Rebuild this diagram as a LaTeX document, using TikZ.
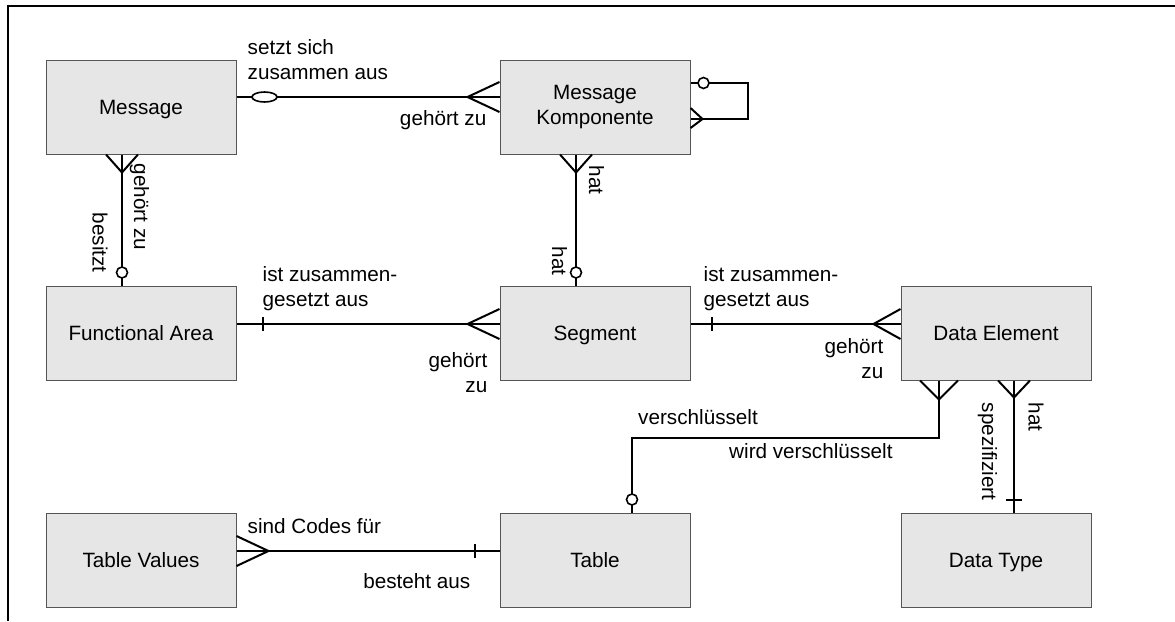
\documentclass[tikz,border=0pt]{standalone}
\usepackage{fontspec}
\setmainfont{Liberation Sans}
\definecolor{boxfill}{RGB}{230,230,230}
\definecolor{boxline}{RGB}{85,85,85}
\usetikzlibrary{calc}
\usetikzlibrary{positioning}
\usetikzlibrary{shapes.geometric}
\tikzset{
  entity/.style={draw=boxline, fill=boxfill, line width=1pt, minimum width=190pt, minimum height=94pt, inner sep=0pt, align=center},
  rel/.style={line width=2pt, black},
  lbl/.style={inner sep=0pt, align=left},
  zero/.style={circle, draw, fill=white, line width=1.6pt, minimum size=11pt, inner sep=0pt},
  oval/.style={ellipse, draw, fill=white, line width=1.6pt, minimum width=25pt, minimum height=10pt, inner sep=0pt},
}

\begin{document}
\begin{tikzpicture}[x=1pt, y=-1pt, font=\fontsize{20.7}{25}\selectfont]
  \useasboundingbox (0,0) rectangle (1175,621);
  \draw[line width=2pt] (8,621) -- (8,6) -- (1175,6);

  \node[entity, text depth=0pt] (msg) at (141,107) {Message};
  \node[entity] (fa)  at (141,333) {Functional Area};
  \node[entity] (tv)  at (141,560) {Table Values};
  \node[entity] (mk)  at (595,107) {Message\\Komponente};
  \node[entity, text depth=0pt] (seg) at (595,333) {Segment};
  \node[entity] (tab) at (595,560) {Table};
  \node[entity] (de)  at (996,333) {Data Element};
  \node[entity, text depth=0pt] (dt)  at (996,560) {Data Type};

  % Message -- Message Komponente
  \draw[rel] ([yshift=10pt]msg.east) -- ([yshift=10pt]mk.west);
  \node[oval] (o1) at ($(msg.east)+(28,-10)$) {};
  \draw[rel] ($(mk.west)+(0,-25)$) -- ($(mk.west)+(-32,-10)$) -- ($(mk.west)+(0,5)$);
  \node[lbl, anchor=base west] (l1) at ($(msg.east)+(11,-27.5)$) {setzt sich\\zusammen aus};
  \node[lbl, anchor=base east] (l2) at ($(mk.west)+(-13,18)$) {gehört zu};

  % Message Komponente -- itself
  \draw[rel] ([yshift=24pt]mk.east) -- ++(57,0) |- ([yshift=-12pt]mk.east);
  \node[zero] (c1) at ($(mk.east)+(13,-24)$) {};
  \draw[rel] ($(mk.east)+(0,1)$) -- ($(mk.east)+(12,12)$) -- ($(mk.east)+(0,21)$);

  % Message Komponente -- Segment
  \draw[rel] ([xshift=-19pt]mk.south) -- ([xshift=-19pt]seg.north);
  \draw[rel] ($(mk.south)+(-35,0)$) -- ($(mk.south)+(-19,18)$) -- ($(mk.south)+(-3,0)$);
  \node[zero] (c2) at ($(seg.north)+(-19,-13)$) {};
  \node[lbl, rotate=-90, anchor=base west] (l3) at ($(mk.south)+(-6,11)$) {hat};
  \node[lbl, rotate=-90, anchor=base west] (l4) at ($(seg.north)+(-43,-39)$) {hat};

  % Message -- Functional Area
  \draw[rel] ([xshift=-19pt]msg.south) -- ([xshift=-19pt]fa.north);
  \draw[rel] ($(msg.south)+(-35,0)$) -- ($(msg.south)+(-19,18)$) -- ($(msg.south)+(-3,0)$);
  \node[zero] (c3) at ($(fa.north)+(-19,-13)$) {};
  \node[lbl, rotate=-90, anchor=base west] (l5) at ($(msg.south)+(-7,9)$) {gehört zu};
  \node[lbl, rotate=-90, anchor=base west] (l6) at ($(fa.north)+(-48.5,-73)$) {besitzt};

  % Functional Area -- Segment
  \draw[rel] ([yshift=9pt]fa.east) -- ([yshift=9pt]seg.west);
  \draw[rel] ($(fa.east)+(26,-16)$) -- ($(fa.east)+(26,-2)$);
  \draw[rel] ($(seg.west)+(0,-24)$) -- ($(seg.west)+(-32,-9)$) -- ($(seg.west)+(0,6)$);
  \node[lbl, anchor=base west] (l7) at ($(fa.east)+(26,-27)$) {ist zusammen-\\gesetzt aus};
  \node[lbl, anchor=base east, align=right] (l8) at ($(seg.west)+(-12,59)$) {gehört\\zu};

  % Segment -- Data Element
  \draw[rel] ([yshift=9pt]seg.east) -- ([yshift=9pt]de.west);
  \draw[rel] ($(seg.east)+(21,-16)$) -- ($(seg.east)+(21,-2)$);
  \draw[rel] ($(de.west)+(0,-24)$) -- ($(de.west)+(-27,-9)$) -- ($(de.west)+(0,6)$);
  \node[lbl, anchor=base west] (l9) at ($(seg.east)+(13,-27)$) {ist zusammen-\\gesetzt aus};
  \node[lbl, anchor=base east, align=right] (l10) at ($(de.west)+(-17,45)$) {gehört\\zu};

  % Data Element -- Table
  \draw[rel] ([xshift=-57pt]de.south) -- ++(0,57) -| ([xshift=37pt]tab.north);
  \draw[rel] ($(de.south)+(-76,0)$) -- ($(de.south)+(-57,19)$) -- ($(de.south)+(-38,0)$);
  \node[zero] (c4) at ($(tab.north)+(37,-13)$) {};
  \node[lbl, anchor=base west] (l11) at ($(tab.north)+(43,-88)$) {verschlüsselt};
  \node[lbl, anchor=base west] (l12) at ($(de.south)+(-267,78)$) {wird verschlüsselt};

  % Data Element -- Data Type
  \draw[rel] ([xshift=18pt]de.south) -- ([xshift=18pt]dt.north);
  \draw[rel] ($(de.south)+(2,0)$) -- ($(de.south)+(18,17)$) -- ($(de.south)+(34,0)$);
  \draw[rel] ($(dt.north)+(10,-13)$) -- ($(dt.north)+(26,-13)$);
  \node[lbl, rotate=-90, anchor=base west] (l13) at ($(de.south)+(32.5,22)$) {hat};
  \node[lbl, rotate=-90, anchor=base west] (l14) at ($(de.south)+(-14,22)$) {spezifiziert};

  % Table Values -- Table
  \draw[rel] ([yshift=9pt]tv.east) -- ([yshift=9pt]tab.west);
  \draw[rel] ($(tv.east)+(0,-24)$) -- ($(tv.east)+(32,-9)$) -- ($(tv.east)+(0,6)$);
  \draw[rel] ($(tab.west)+(-25,-16)$) -- ($(tab.west)+(-25,-2)$);
  \node[lbl, anchor=base west] (l15) at ($(tv.east)+(11,-27)$) {sind Codes für};
  \node[lbl, anchor=base east] (l16) at ($(tab.west)+(-29,28)$) {besteht aus};
\end{tikzpicture}
\end{document}
